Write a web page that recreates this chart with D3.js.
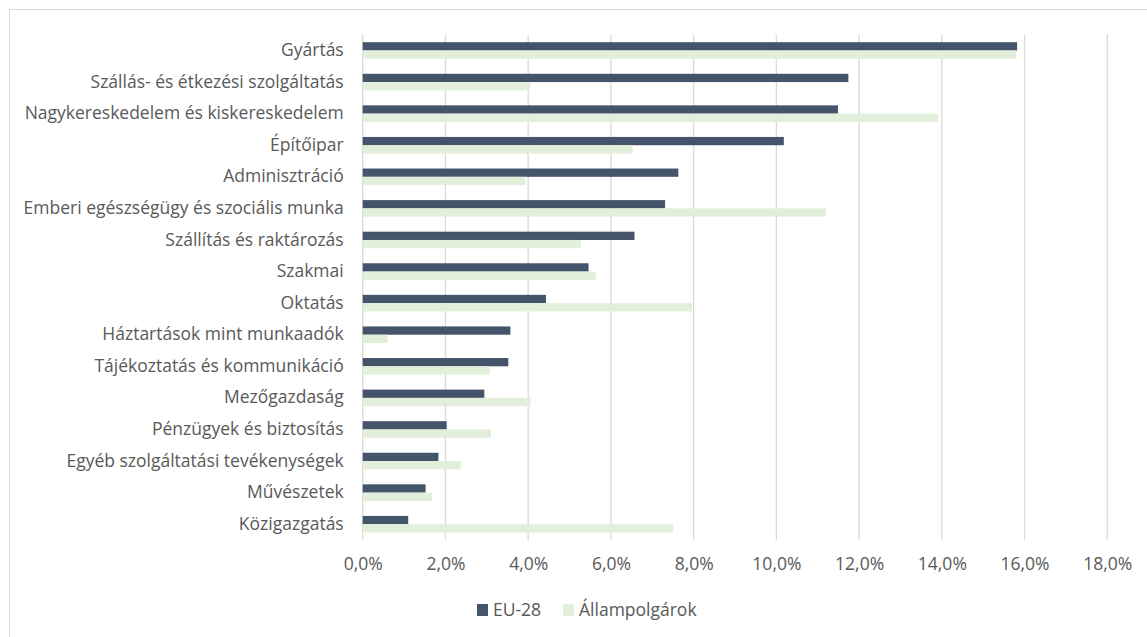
<!DOCTYPE html>
<html><head><meta charset="utf-8">
<script src="https://cdn.jsdelivr.net/npm/d3@7"></script>
<style>
body{margin:0;background:#fff;}
text{font-family:"Open Sans","Liberation Sans",sans-serif;fill:#595959;}
</style></head>
<body><svg id="c" width="1147" height="637"></svg>
<script>
const categories = ["Gyártás","Szállás- és étkezési szolgáltatás","Nagykereskedelem és kiskereskedelem","Építőipar","Adminisztráció","Emberi egészségügy és szociális munka","Szállítás és raktározás","Szakmai","Oktatás","Háztartások mint munkaadók","Tájékoztatás és kommunikáció","Mezőgazdaság","Pénzügyek és biztosítás","Egyéb szolgáltatási tevékenységek","Művészetek","Közigazgatás"];
const eu28 = [15.82,11.74,11.49,10.18,7.63,7.31,6.57,5.46,4.43,3.57,3.52,2.94,2.03,1.83,1.52,1.10];
const allampolgarok = [15.80,4.05,13.91,6.53,3.94,11.20,5.27,5.64,7.96,0.60,3.07,4.06,3.10,2.37,1.68,7.50];
const seriesNames = ["EU-28","Állampolgárok"];
const ticks = [0,2,4,6,8,10,12,14,16,18];
const colors = ["#44546A","#E2EFDA"];

const svg = d3.select("#c");
svg.append("rect").attr("x",9.5).attr("y",9.5).attr("width",1160).attr("height",640)
  .attr("fill","#fff").attr("stroke","#D9D9D9");

const pLeft=362.7, pRight=1107.3, pTop=34.7, pBottom=540;
const x = d3.scaleLinear().domain([0,18]).range([pLeft,pRight]);
const y = d3.scaleBand().domain(categories).range([pTop,pBottom]).paddingInner(0.475).paddingOuter(0.2375);
const sub = d3.scaleBand().domain(seriesNames).range([0,y.bandwidth()]);

// gridlines
svg.append("g").selectAll("line").data(ticks).join("line")
  .attr("x1",d=>x(d)).attr("x2",d=>x(d)).attr("y1",pTop).attr("y2",pBottom)
  .attr("stroke","#D9D9D9").attr("stroke-width",1.3);

const data = categories.map((c,i)=>({c, vals:[eu28[i],allampolgarok[i]]}));
const g = svg.append("g");
data.forEach(d=>{
  d.vals.forEach((v,j)=>{
    g.append("rect").attr("x",x(0)).attr("y",y(d.c)+sub(seriesNames[j]))
      .attr("width",x(v)-x(0)).attr("height",sub.bandwidth())
      .attr("fill",colors[j]);
  });
});

// x axis labels
const xAxis = d3.axisBottom(x).tickValues(ticks).tickSize(0).tickFormat(d=>d3.format(".1f")(d).replace(".",",")+"%");
const xa = svg.append("g").attr("transform",`translate(0,${pBottom+15})`).call(xAxis);
xa.select(".domain").remove();
xa.selectAll("text").style("font-size","17.5px").attr("fill","#595959").attr("font-family","Open Sans, sans-serif");

// y axis labels
const yAxis = d3.axisLeft(y).tickSize(0).tickPadding(0);
const ya = svg.append("g").attr("transform",`translate(${pLeft-19},0)`).call(yAxis);
ya.select(".domain").remove();
ya.selectAll("text").style("font-size","17.5px").attr("fill","#595959").attr("font-family","Open Sans, sans-serif");

// legend
const lg = svg.append("g").attr("transform","translate(477,604)");
const items = [{n:seriesNames[0],c:colors[0],x:0},{n:seriesNames[1],c:colors[1],x:86}];
items.forEach(it=>{
  lg.append("rect").attr("x",it.x).attr("y",0).attr("width",11).attr("height",12).attr("fill",it.c);
  lg.append("text").attr("x",it.x+16).attr("y",6).attr("dy","0.35em").style("font-size","17.5px").text(it.n);
});
</script></body></html>
